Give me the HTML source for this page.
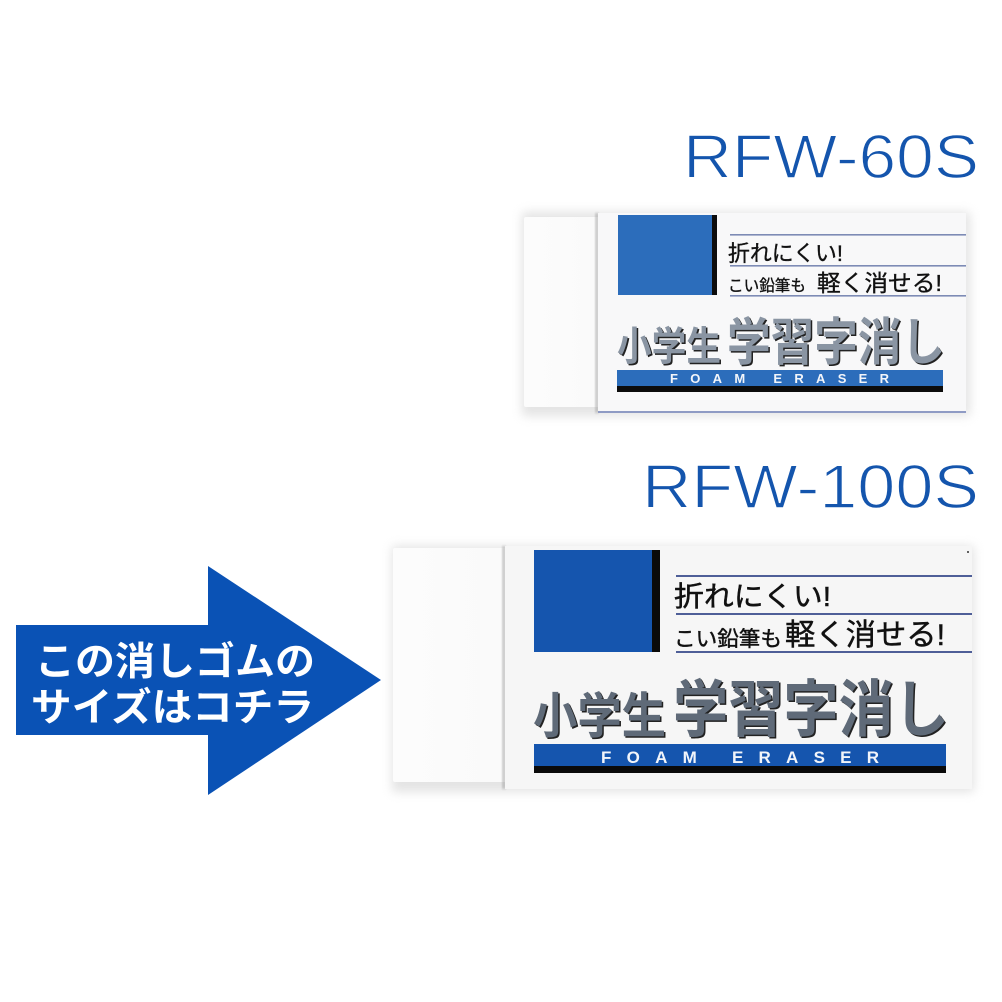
<!DOCTYPE html>
<html lang="ja"><head><meta charset="utf-8"><title>RFW</title>
<style>html,body{margin:0;padding:0;background:#fff}svg{display:block}
text{font-family:"Liberation Sans","Noto Sans CJK JP",sans-serif}</style></head>
<body>
<svg width="1002" height="1002" viewBox="0 0 1002 1002" xmlns="http://www.w3.org/2000/svg">
<defs>
<filter id="b" x="-10%" y="-15%" width="120%" height="130%"><feGaussianBlur stdDeviation="5"/></filter>
<filter id="e" x="-10%" y="-5%" width="120%" height="110%"><feGaussianBlur stdDeviation="1.2"/></filter>
<linearGradient id="w" x1="0" x2="1" y1="0" y2="0"><stop offset="0" stop-color="#fcfcfc"/><stop offset="1" stop-color="#fafafa"/></linearGradient>
</defs>
<rect width="1002" height="1002" fill="#fff"/>

<!-- labels -->
<text x="683" y="178" font-size="62" fill="#1455ad" stroke="#fff" stroke-width="1.4" textLength="296" lengthAdjust="spacingAndGlyphs">RFW-60S</text>
<text x="642" y="508" font-size="62" fill="#1455ad" stroke="#fff" stroke-width="1.4" textLength="337" lengthAdjust="spacingAndGlyphs">RFW-100S</text>

<!-- small eraser -->
<rect x="522" y="212" width="448" height="204" fill="#bbb" opacity=".4" filter="url(#b)"/>
<rect x="524" y="217" width="76" height="190" rx="2" fill="url(#w)"/>
<rect x="595" y="213" width="4" height="200" fill="#999" opacity=".5" filter="url(#e)"/>
<rect x="598" y="213" width="368" height="200" fill="#f8f8f9"/>
<rect x="598" y="411" width="368" height="2" fill="#8f9bc4"/>
<rect x="618" y="215" width="94" height="80" fill="#2c6dbb"/>
<rect x="712" y="215" width="5" height="80" fill="#0c0c0c"/>
<g fill="#7d8bb5"><rect x="730" y="234" width="236" height="1.6"/><rect x="730" y="265" width="236" height="1.6"/><rect x="730" y="295" width="236" height="1.6"/></g>
<g fill="#111" stroke="#111" stroke-width="0.35">
<text x="728" y="261" font-size="22" textLength="115" lengthAdjust="spacingAndGlyphs">折れにくい!</text>
<text x="728" y="291" font-size="16" textLength="78" lengthAdjust="spacingAndGlyphs">こい鉛筆も</text>
<text x="817" y="291" font-size="23" textLength="125" lengthAdjust="spacingAndGlyphs">軽く消せる!</text>
</g>
<g font-weight="700">
<text x="618.5" y="361.5" font-size="40" fill="#222" textLength="104" lengthAdjust="spacingAndGlyphs">小学生</text>
<text x="617" y="360" font-size="40" fill="#8a95a3" textLength="104" lengthAdjust="spacingAndGlyphs">小学生</text>
<text x="728.5" y="361.5" font-size="51" fill="#222" textLength="218" lengthAdjust="spacingAndGlyphs">学習字消し</text>
<text x="727" y="360" font-size="51" fill="#8a95a3" textLength="218" lengthAdjust="spacingAndGlyphs">学習字消し</text>
</g>
<rect x="617" y="370" width="326" height="16" fill="#2c6dbb"/>
<rect x="617" y="386" width="326" height="6" fill="#0c0c0c"/>
<text x="670" y="383" font-size="13" font-weight="700" fill="#f2f5fa" textLength="219">FOAM ERASER</text>

<!-- large eraser -->
<rect x="392" y="546" width="582" height="246" fill="#bbb" opacity=".4" filter="url(#b)"/>
<rect x="393" y="548" width="114" height="234" rx="2" fill="url(#w)"/>
<rect x="502" y="546" width="4" height="243" fill="#999" opacity=".5" filter="url(#e)"/>
<rect x="505" y="546" width="467" height="243" fill="#f6f6f6"/>
<rect x="534" y="550" width="118" height="102" fill="#1555ae"/>
<rect x="652" y="550" width="8" height="102" fill="#0a0a0a"/>
<g fill="#4f5f98"><rect x="676" y="575" width="296" height="2"/><rect x="676" y="613" width="296" height="2"/><rect x="676" y="651" width="296" height="2"/></g>
<g fill="#111" stroke="#111" stroke-width="0.45">
<text x="674" y="606" font-size="28" textLength="157" lengthAdjust="spacingAndGlyphs">折れにくい!</text>
<text x="674" y="646" font-size="21" textLength="108" lengthAdjust="spacingAndGlyphs">こい鉛筆も</text>
<text x="785" y="645" font-size="30" textLength="160" lengthAdjust="spacingAndGlyphs">軽く消せる!</text>
</g>
<g font-weight="700">
<text x="534.5" y="734.5" font-size="49" fill="#222" textLength="133" lengthAdjust="spacingAndGlyphs">小学生</text>
<text x="533" y="733" font-size="49" fill="#5f6a78" textLength="133" lengthAdjust="spacingAndGlyphs">小学生</text>
<text x="674.5" y="732.5" font-size="62" fill="#222" textLength="276" lengthAdjust="spacingAndGlyphs">学習字消し</text>
<text x="673" y="731" font-size="62" fill="#5f6a78" textLength="276" lengthAdjust="spacingAndGlyphs">学習字消し</text>
</g>
<rect x="534" y="744" width="412" height="22" fill="#1555ae"/>
<rect x="534" y="766" width="412" height="7" fill="#0a0a0a"/>
<text x="601" y="763" font-size="17" font-weight="700" fill="#f2f5fa" textLength="278">FOAM ERASER</text>
<circle cx="968" cy="552" r="1" fill="#333"/>

<!-- arrow -->
<polygon points="16,625 208,625 208,566 381,680 208,795 208,735 16,735" fill="#0a52b5"/>
<g font-weight="700" fill="#fff" font-size="39">
<text x="35" y="675" textLength="280" lengthAdjust="spacingAndGlyphs">この消しゴムの</text>
<text x="31" y="721" textLength="283" lengthAdjust="spacingAndGlyphs">サイズはコチラ</text>
</g>
</svg>
</body></html>
